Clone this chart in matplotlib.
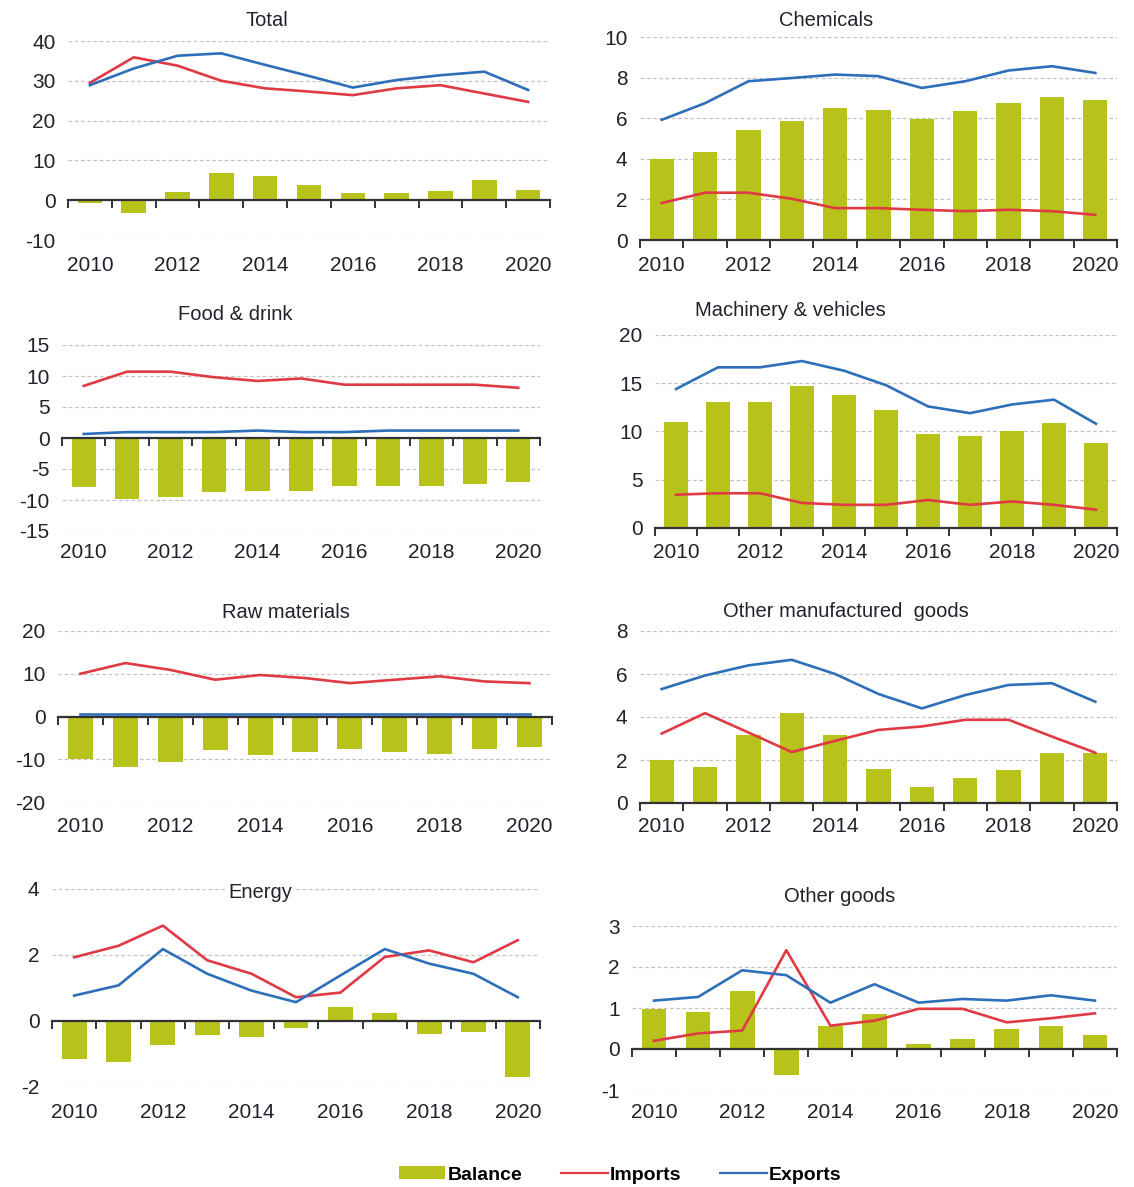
import numpy as np
import matplotlib
matplotlib.use("Agg")
import matplotlib.pyplot as plt
from matplotlib.patches import Patch
from matplotlib.lines import Line2D

plt.rcParams['font.family'] = ['Liberation Sans', 'DejaVu Sans']

years = list(range(2010, 2021))
year_labels = ['2010', '2012', '2014', '2016', '2018', '2020']

# values
total_balance = [-0.6, -3.1, 2.1, 6.8, 6.0, 3.9, 1.8, 1.8, 2.2, 5.1, 2.6]
total_imports = [29.5, 35.9, 33.8, 30.0, 28.1, 27.3, 26.4, 28.1, 28.9, 26.8, 24.7]
total_exports = [28.9, 33.1, 36.3, 36.9, 34.0, 31.2, 28.3, 30.2, 31.4, 32.3, 27.7]

chem_balance = [4.0, 4.35, 5.4, 5.85, 6.5, 6.4, 5.95, 6.35, 6.75, 7.05, 6.9]
chem_imports = [1.82, 2.33, 2.33, 2.03, 1.57, 1.57, 1.49, 1.42, 1.49, 1.42, 1.24]
chem_exports = [5.92, 6.74, 7.82, 7.98, 8.15, 8.07, 7.49, 7.82, 8.35, 8.56, 8.23]

food_balance = [-7.9, -9.8, -9.55, -8.7, -8.5, -8.5, -7.7, -7.7, -7.7, -7.4, -7.1]
food_imports = [8.4, 10.7, 10.7, 9.8, 9.2, 9.6, 8.6, 8.6, 8.6, 8.6, 8.1]
food_exports = [0.65, 0.95, 0.95, 0.95, 1.2, 0.95, 0.95, 1.2, 1.2, 1.2, 1.2]

mach_balance = [11.0, 13.1, 13.1, 14.7, 13.75, 12.2, 9.7, 9.5, 10.0, 10.85, 8.8]
mach_imports = [3.45, 3.6, 3.6, 2.6, 2.4, 2.4, 2.9, 2.4, 2.75, 2.4, 1.9]
mach_exports = [14.4, 16.65, 16.65, 17.3, 16.3, 14.8, 12.6, 11.9, 12.8, 13.3, 10.8]

raw_balance = [-9.9, -11.8, -10.7, -7.95, -9.1, -8.3, -7.6, -8.3, -8.7, -7.6, -7.2]
raw_imports = [10.0, 12.5, 10.9, 8.6, 9.7, 9.0, 7.8, 8.6, 9.4, 8.2, 7.8]
raw_exports = [0.5, 0.5, 0.5, 0.5, 0.5, 0.5, 0.5, 0.5, 0.5, 0.5, 0.5]

oman_balance = [1.98, 1.68, 3.17, 4.17, 3.17, 1.6, 0.75, 1.14, 1.53, 2.31, 2.31]
oman_imports = [3.23, 4.18, 3.28, 2.37, 2.89, 3.4, 3.56, 3.87, 3.87, 3.09, 2.34]
oman_exports = [5.3, 5.93, 6.4, 6.66, 6.0, 5.07, 4.4, 5.02, 5.49, 5.57, 4.71]

energy_balance = [-1.14, -1.24, -0.73, -0.43, -0.48, -0.22, 0.42, 0.25, -0.38, -0.32, -1.7]
energy_imports = [1.93, 2.28, 2.89, 1.84, 1.43, 0.72, 0.86, 1.94, 2.14, 1.78, 2.45]
energy_exports = [0.77, 1.08, 2.18, 1.43, 0.92, 0.57, 1.38, 2.18, 1.74, 1.43, 0.72]

other_balance = [0.98, 0.9, 1.42, -0.64, 0.57, 0.86, 0.13, 0.24, 0.49, 0.57, 0.33]
other_imports = [0.2, 0.38, 0.45, 2.41, 0.57, 0.69, 0.98, 0.98, 0.65, 0.75, 0.87]
other_exports = [1.18, 1.27, 1.92, 1.8, 1.13, 1.58, 1.13, 1.22, 1.18, 1.31, 1.18]

c_bal = '#B7C21B'
c_imp = '#E03A44'
c_exp = '#2E6FBA'
c_txt = '#22222c'

W, H = 1134, 1187
fig = plt.figure(figsize=(W / 100, H / 100), dpi=100)

# (title, balance, imports, exports, yticks, box px [left, right, top, bottom], title pos px, label y px)
panels = [
    ('Total', total_balance, total_imports, total_exports, [-10, 0, 10, 20, 30, 40],
     (68, 550, 41, 240), (267, 20), 265),
    ('Chemicals', chem_balance, chem_imports, chem_exports, [0, 2, 4, 6, 8, 10],
     (640, 1117, 37, 240), (826, 20), 265),
    ('Food & drink', food_balance, food_imports, food_exports, [-15, -10, -5, 0, 5, 10, 15],
     (62, 540, 345, 531), (235, 314), 553),
    ('Machinery & vehicles', mach_balance, mach_imports, mach_exports, [0, 5, 10, 15, 20],
     (655, 1117, 335, 528), (790, 311), 553),
    ('Raw materials', raw_balance, raw_imports, raw_exports, [-20, -10, 0, 10, 20],
     (58, 552, 631, 802), (286, 613), 827),
    ('Other manufactured  goods', oman_balance, oman_imports, oman_exports, [0, 2, 4, 6, 8],
     (640, 1117, 631, 803), (846, 612), 827),
    ('Energy', energy_balance, energy_imports, energy_exports, [-2, 0, 2, 4],
     (52, 540, 889, 1087), (260, 893), 1113),
    ('Other goods', other_balance, other_imports, other_exports, [-1, 0, 1, 2, 3],
     (632, 1117, 926, 1090), (840, 897), 1113),
]

x = np.arange(len(years))
for title, bal, imp, exp, yt, box, tpos, ly in panels:
    l, r, t, b = box
    ax = fig.add_axes([l / W, 1 - b / H, (r - l) / W, (b - t) / H])
    ax.set_xlim(-0.5, len(years) - 0.5)
    ax.set_ylim(yt[0], yt[-1])
    ax.set_yticks(yt)
    ax.set_yticklabels([str(v) for v in yt])
    ax.yaxis.grid(True, linestyle=(0, (3, 2)), color='#c4c4c4', lw=0.9)
    ax.set_axisbelow(True)
    for s in ['left', 'right', 'top']:
        ax.spines[s].set_visible(False)
    ax.spines['bottom'].set_position(('data', 0))
    ax.spines['bottom'].set_color('#333333')
    ax.spines['bottom'].set_linewidth(1.6)
    ax.spines['bottom'].set_zorder(4)
    ax.set_xticks(np.arange(-0.5, len(years), 1.0))
    ax.tick_params(axis='x', length=6, width=1.4, color='#333333', labelbottom=False, direction='out')
    ax.tick_params(axis='y', length=0, labelsize=15, labelcolor=c_txt, pad=9)

    ax.bar(x, bal, width=0.56, color=c_bal, zorder=2)
    ax.plot(x, imp, color=c_imp, lw=1.9, zorder=3)
    ax.plot(x, exp, color=c_exp, lw=1.9, zorder=3)

    for i, yr in enumerate(years):
        if str(yr) in year_labels:
            ax.text(i, 1 - (ly - t) / (b - t), str(yr), transform=ax.get_xaxis_transform(),
                    ha='center', va='center', fontsize=15, color=c_txt)

    fig.text(tpos[0] / W, 1 - tpos[1] / H, title, ha='center', va='center', fontsize=14.5,
             color=c_txt, bbox=dict(facecolor='white', edgecolor='none', pad=1))

handles = [Patch(facecolor=c_bal, edgecolor='none'),
           Line2D([], [], color=c_imp, lw=1.6),
           Line2D([], [], color=c_exp, lw=1.6)]
fig.legend(handles, ['Balance', 'Imports', 'Exports'], loc='center', bbox_to_anchor=(620 / W, 1 - 1175 / H),
           ncol=3, frameon=False, handlelength=2.4, handleheight=0.6, handletextpad=0.1, columnspacing=2.0,
           prop={'size': 14, 'weight': 'bold'})

fig.savefig('out.png', dpi=100, facecolor='white')
